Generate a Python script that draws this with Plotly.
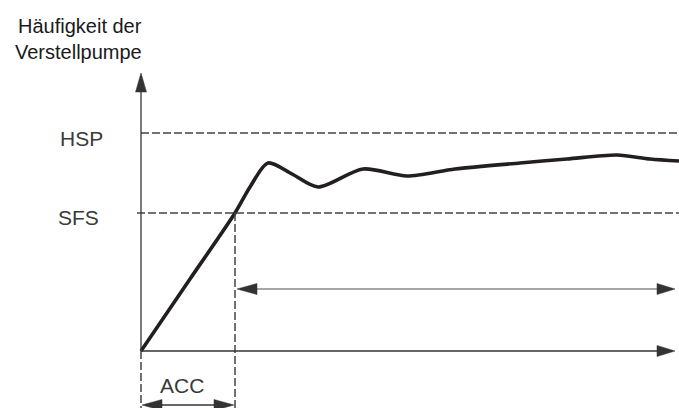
import plotly.graph_objects as go

# Curve (time, frequency) in chart units (pixel-like scale)
curve_t = [141, 190, 235, 250, 268, 292, 318, 363, 407, 455, 520, 567, 617, 650, 679]
curve_f = [351, 279, 213, 187, 163, 174, 187, 169, 176, 169, 163, 159, 155, 159, 161]

origin_t = 141
origin_f = 351
acc_t = 235
hsp_f = 133
sfs_f = 213
t_end = 679
arrow_tip_t = 675
yaxis_tip_f = 73
mid_arrow_f = 289
acc_arrow_f = 405
bottom_f = 408

W, H = 679, 408
fig = go.Figure()

fig.add_trace(go.Scatter(x=curve_t, y=curve_f, mode="lines",
                         line=dict(color="#231f20", width=3.6, shape="spline", smoothing=0.8),
                         hoverinfo="skip", showlegend=False))

dark = "#333333"
shapes = []
# dashed reference levels
shapes.append(dict(type="line", x0=origin_t, x1=t_end, y0=hsp_f, y1=hsp_f,
                   line=dict(color="#444444", width=1.5, dash="8px,3px")))
shapes.append(dict(type="line", x0=origin_t - 4, x1=t_end, y0=sfs_f, y1=sfs_f,
                   line=dict(color="#444444", width=1.5, dash="8px,3px")))
# vertical dashed lines
shapes.append(dict(type="line", x0=acc_t, x1=acc_t, y0=sfs_f, y1=bottom_f,
                   line=dict(color="#444444", width=1.5, dash="8px,3px")))
shapes.append(dict(type="line", x0=origin_t, x1=origin_t, y0=origin_f, y1=bottom_f,
                   line=dict(color="#444444", width=1.5, dash="8px,3px")))
# axes lines
shapes.append(dict(type="line", x0=origin_t, x1=origin_t, y0=origin_f, y1=yaxis_tip_f + 15,
                   line=dict(color=dark, width=1.3)))
shapes.append(dict(type="line", x0=origin_t, x1=arrow_tip_t - 15, y0=origin_f, y1=origin_f,
                   line=dict(color=dark, width=1.3)))
# middle double arrow line
shapes.append(dict(type="line", x0=acc_t + 18, x1=arrow_tip_t - 15, y0=mid_arrow_f, y1=mid_arrow_f,
                   line=dict(color="#888888", width=1.6)))
# ACC arrow line
shapes.append(dict(type="line", x0=origin_t + 15, x1=acc_t - 15, y0=acc_arrow_f, y1=acc_arrow_f,
                   line=dict(color=dark, width=1.3)))


def head(tx, ty, dx, dy, length, half):
    # triangle with tip (tx,ty) pointing along (dx,dy)
    bx, by = tx - dx * length, ty - dy * length
    px, py = -dy, dx
    return dict(type="path",
                path=f"M {tx},{ty} L {bx + px*half},{by + py*half} L {bx - px*half},{by - py*half} Z",
                fillcolor=dark, line=dict(color=dark, width=0.5))

shapes.append(head(origin_t, yaxis_tip_f, 0, -1, 19, 5.5))
shapes.append(head(arrow_tip_t, origin_f, 1, 0, 18, 5.5))
shapes.append(head(arrow_tip_t, mid_arrow_f, 1, 0, 18, 5.5))
shapes.append(head(acc_t + 2, mid_arrow_f, -1, 0, 20, 5.5))
shapes.append(head(origin_t + 1, acc_arrow_f, -1, 0, 20, 5.5))
shapes.append(head(acc_t - 1, acc_arrow_f, 1, 0, 20, 5.5))

fam = "Liberation Sans, Arial, sans-serif"
title_font = dict(family=fam, size=20, color="#1a1a1a")
big = dict(family=fam, size=21, color="#3a3a3a")
annotations = [
    dict(x=80, y=26, text="Häufigkeit der", showarrow=False, font=title_font, xanchor="center", yanchor="middle"),
    dict(x=78, y=52, text="Verstellpumpe", showarrow=False, font=title_font, xanchor="center", yanchor="middle"),
    dict(x=81, y=138, text="HSP", showarrow=False, font=big, xanchor="center", yanchor="middle"),
    dict(x=78, y=217, text="SFS", showarrow=False, font=big, xanchor="center", yanchor="middle"),
    dict(x=182, y=385, text="ACC", showarrow=False, font=big, xanchor="center", yanchor="middle"),
]

fig.update_layout(
    width=W, height=H, margin=dict(l=0, r=0, t=0, b=0),
    paper_bgcolor="white", plot_bgcolor="white",
    xaxis=dict(range=[0, W], visible=False, fixedrange=True),
    yaxis=dict(range=[H, 0], visible=False, fixedrange=True),
    shapes=shapes, annotations=annotations, showlegend=False,
)

fig.write_html("out.html", config={"displayModeBar": False},
               post_script="document.body.style.margin='0';document.body.style.overflow='hidden';")
